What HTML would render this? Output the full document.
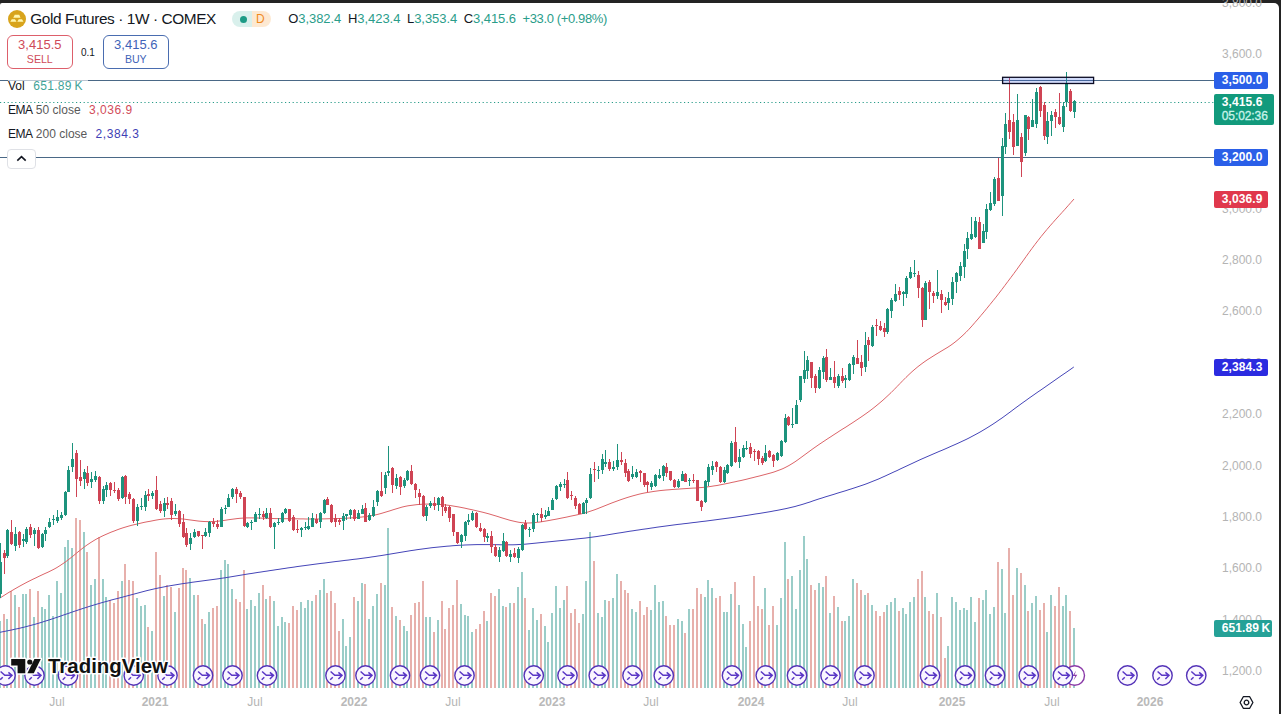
<!DOCTYPE html>
<html><head><meta charset="utf-8"><title>Gold Futures</title>
<style>
html,body{margin:0;padding:0;background:#232323;}
body{width:1281px;height:714px;position:relative;overflow:hidden;font-family:"Liberation Sans",sans-serif;}
#panel{position:absolute;left:0;top:3px;width:1279px;height:711px;background:#fff;border-top-right-radius:5px;border-top-left-radius:2px;}
#chart{position:absolute;left:0;top:0;}
.abs{position:absolute;white-space:nowrap;}
.pl{position:absolute;left:1214px;width:56px;text-align:center;font-size:12px;line-height:16px;color:#b4b4b4;height:16px;}
.tl{position:absolute;top:694px;width:60px;text-align:center;font-size:12px;line-height:16px;color:#b4b4b4;}
.tl.b{font-weight:bold;color:#b9b9b9;}
.tag{position:absolute;left:1214px;width:46.2px;padding-left:7.8px;height:16.8px;line-height:16.8px;font-size:12px;font-weight:bold;color:#fff;text-align:left;border-radius:2px;letter-spacing:0.1px}
</style></head><body>
<div id="panel"></div>
<div id="plabels"><div class="pl" style="top:-5.0px">3,800.0</div><div class="pl" style="top:46.4px">3,600.0</div><div class="pl" style="top:200.6px">3,000.0</div><div class="pl" style="top:252.0px">2,800.0</div><div class="pl" style="top:303.4px">2,600.0</div><div class="pl" style="top:354.8px">2,400.0</div><div class="pl" style="top:406.2px">2,200.0</div><div class="pl" style="top:457.6px">2,000.0</div><div class="pl" style="top:509.0px">1,800.0</div><div class="pl" style="top:560.4px">1,600.0</div><div class="pl" style="top:611.8px">1,400.0</div><div class="pl" style="top:663.2px">1,200.0</div></div>
<svg id="chart" width="1281" height="714" viewBox="0 0 1281 714"><path d="M-1,620.9h2V687.5h-2zM6,618.9h2V687.5h-2zM14,595.2h2V687.5h-2zM22,593.7h2V687.5h-2zM25,593.7h2V687.5h-2zM33,617.1h2V687.5h-2zM41,607.1h2V687.5h-2zM44,608.8h2V687.5h-2zM48,594.5h2V687.5h-2zM52,616.4h2V687.5h-2zM56,581.1h2V687.5h-2zM60,593.2h2V687.5h-2zM64,546.6h2V687.5h-2zM67,539.7h2V687.5h-2zM71,547.8h2V687.5h-2zM83,532.2h2V687.5h-2zM90,585.1h2V687.5h-2zM94,579.3h2V687.5h-2zM102,579.3h2V687.5h-2zM105,597.0h2V687.5h-2zM121,580.6h2V687.5h-2zM136,597.7h2V687.5h-2zM140,605.8h2V687.5h-2zM144,604.5h2V687.5h-2zM151,631.0h2V687.5h-2zM163,595.7h2V687.5h-2zM174,612.1h2V687.5h-2zM189,578.1h2V687.5h-2zM193,594.5h2V687.5h-2zM204,623.9h2V687.5h-2zM208,612.1h2V687.5h-2zM220,570.0h2V687.5h-2zM224,560.4h2V687.5h-2zM227,564.2h2V687.5h-2zM231,589.4h2V687.5h-2zM246,608.8h2V687.5h-2zM250,600.3h2V687.5h-2zM254,606.3h2V687.5h-2zM258,593.2h2V687.5h-2zM265,598.7h2V687.5h-2zM273,601.3h2V687.5h-2zM277,626.0h2V687.5h-2zM281,617.1h2V687.5h-2zM284,622.2h2V687.5h-2zM300,602.0h2V687.5h-2zM304,608.3h2V687.5h-2zM307,600.3h2V687.5h-2zM311,600.8h2V687.5h-2zM319,590.2h2V687.5h-2zM323,579.3h2V687.5h-2zM342,618.9h2V687.5h-2zM345,646.1h2V687.5h-2zM349,637.3h2V687.5h-2zM357,600.8h2V687.5h-2zM361,583.1h2V687.5h-2zM368,618.9h2V687.5h-2zM372,606.3h2V687.5h-2zM376,593.7h2V687.5h-2zM384,585.1h2V687.5h-2zM387,528.2h2V687.5h-2zM395,616.4h2V687.5h-2zM403,625.5h2V687.5h-2zM406,630.5h2V687.5h-2zM425,617.1h2V687.5h-2zM429,617.1h2V687.5h-2zM437,619.7h2V687.5h-2zM460,603.8h2V687.5h-2zM464,614.6h2V687.5h-2zM467,616.4h2V687.5h-2zM471,631.5h2V687.5h-2zM486,620.9h2V687.5h-2zM498,589.4h2V687.5h-2zM502,605.8h2V687.5h-2zM509,603.3h2V687.5h-2zM517,586.9h2V687.5h-2zM521,571.8h2V687.5h-2zM528,629.7h2V687.5h-2zM532,608.3h2V687.5h-2zM536,619.7h2V687.5h-2zM544,625.5h2V687.5h-2zM547,641.6h2V687.5h-2zM551,612.9h2V687.5h-2zM555,585.6h2V687.5h-2zM559,607.8h2V687.5h-2zM563,599.5h2V687.5h-2zM582,613.9h2V687.5h-2zM585,581.1h2V687.5h-2zM589,532.2h2V687.5h-2zM597,612.9h2V687.5h-2zM601,617.1h2V687.5h-2zM604,599.5h2V687.5h-2zM612,597.7h2V687.5h-2zM616,574.3h2V687.5h-2zM631,608.8h2V687.5h-2zM635,612.1h2V687.5h-2zM650,610.3h2V687.5h-2zM654,585.1h2V687.5h-2zM658,602.0h2V687.5h-2zM662,601.3h2V687.5h-2zM677,618.9h2V687.5h-2zM681,620.9h2V687.5h-2zM688,608.8h2V687.5h-2zM704,597.0h2V687.5h-2zM707,580.1h2V687.5h-2zM711,588.2h2V687.5h-2zM723,612.1h2V687.5h-2zM726,612.1h2V687.5h-2zM730,593.7h2V687.5h-2zM738,605.3h2V687.5h-2zM742,623.9h2V687.5h-2zM745,646.6h2V687.5h-2zM764,588.2h2V687.5h-2zM776,624.7h2V687.5h-2zM780,597.7h2V687.5h-2zM784,541.5h2V687.5h-2zM791,576.1h2V687.5h-2zM795,608.8h2V687.5h-2zM799,570.0h2V687.5h-2zM803,535.7h2V687.5h-2zM806,559.2h2V687.5h-2zM818,583.1h2V687.5h-2zM822,586.9h2V687.5h-2zM829,612.9h2V687.5h-2zM837,607.1h2V687.5h-2zM844,620.9h2V687.5h-2zM848,615.9h2V687.5h-2zM852,579.3h2V687.5h-2zM864,595.2h2V687.5h-2zM871,604.5h2V687.5h-2zM886,605.3h2V687.5h-2zM890,602.0h2V687.5h-2zM894,597.7h2V687.5h-2zM902,608.3h2V687.5h-2zM905,613.9h2V687.5h-2zM909,602.0h2V687.5h-2zM913,597.0h2V687.5h-2zM924,597.0h2V687.5h-2zM936,593.2h2V687.5h-2zM947,645.6h2V687.5h-2zM951,597.0h2V687.5h-2zM955,602.0h2V687.5h-2zM959,610.3h2V687.5h-2zM963,608.3h2V687.5h-2zM966,609.6h2V687.5h-2zM970,597.0h2V687.5h-2zM974,622.2h2V687.5h-2zM982,600.3h2V687.5h-2zM985,590.2h2V687.5h-2zM989,613.9h2V687.5h-2zM993,607.1h2V687.5h-2zM1001,568.5h2V687.5h-2zM1004,613.4h2V687.5h-2zM1016,567.5h2V687.5h-2zM1024,585.1h2V687.5h-2zM1031,603.3h2V687.5h-2zM1035,596.2h2V687.5h-2zM1046,632.3h2V687.5h-2zM1050,595.2h2V687.5h-2zM1062,605.8h2V687.5h-2zM1065,595.2h2V687.5h-2zM1073,628.0h2V687.5h-2z" fill="#9acdc8" shape-rendering="crispEdges"/><path d="M3,613.9h2V687.5h-2zM10,590.7h2V687.5h-2zM18,607.1h2V687.5h-2zM29,589.4h2V687.5h-2zM37,591.2h2V687.5h-2zM75,517.6h2V687.5h-2zM79,520.1h2V687.5h-2zM86,551.6h2V687.5h-2zM98,536.5h2V687.5h-2zM109,600.3h2V687.5h-2zM113,602.8h2V687.5h-2zM117,591.2h2V687.5h-2zM124,564.2h2V687.5h-2zM128,580.1h2V687.5h-2zM132,581.1h2V687.5h-2zM147,627.2h2V687.5h-2zM155,552.4h2V687.5h-2zM159,575.0h2V687.5h-2zM166,585.1h2V687.5h-2zM170,586.9h2V687.5h-2zM178,588.2h2V687.5h-2zM182,567.5h2V687.5h-2zM185,570.0h2V687.5h-2zM197,595.2h2V687.5h-2zM201,618.9h2V687.5h-2zM212,608.3h2V687.5h-2zM216,606.3h2V687.5h-2zM235,598.7h2V687.5h-2zM239,602.0h2V687.5h-2zM243,570.0h2V687.5h-2zM262,585.1h2V687.5h-2zM269,596.2h2V687.5h-2zM288,622.9h2V687.5h-2zM292,605.8h2V687.5h-2zM296,609.6h2V687.5h-2zM315,595.2h2V687.5h-2zM326,593.2h2V687.5h-2zM330,590.7h2V687.5h-2zM334,603.3h2V687.5h-2zM338,631.0h2V687.5h-2zM353,597.0h2V687.5h-2zM364,583.6h2V687.5h-2zM380,582.6h2V687.5h-2zM391,607.1h2V687.5h-2zM399,619.7h2V687.5h-2zM410,614.6h2V687.5h-2zM414,603.3h2V687.5h-2zM418,602.0h2V687.5h-2zM422,581.1h2V687.5h-2zM433,632.3h2V687.5h-2zM441,601.3h2V687.5h-2zM444,628.5h2V687.5h-2zM448,608.3h2V687.5h-2zM452,604.5h2V687.5h-2zM456,580.1h2V687.5h-2zM475,628.5h2V687.5h-2zM479,623.9h2V687.5h-2zM483,611.3h2V687.5h-2zM490,593.2h2V687.5h-2zM494,595.7h2V687.5h-2zM505,607.1h2V687.5h-2zM513,602.8h2V687.5h-2zM524,597.7h2V687.5h-2zM540,613.9h2V687.5h-2zM566,585.6h2V687.5h-2zM570,612.9h2V687.5h-2zM574,608.8h2V687.5h-2zM578,622.9h2V687.5h-2zM593,560.9h2V687.5h-2zM608,600.8h2V687.5h-2zM620,581.1h2V687.5h-2zM624,590.2h2V687.5h-2zM627,593.2h2V687.5h-2zM639,600.8h2V687.5h-2zM643,615.4h2V687.5h-2zM646,607.1h2V687.5h-2zM665,615.9h2V687.5h-2zM669,624.7h2V687.5h-2zM673,624.7h2V687.5h-2zM684,633.0h2V687.5h-2zM692,608.8h2V687.5h-2zM696,588.2h2V687.5h-2zM700,593.7h2V687.5h-2zM715,597.7h2V687.5h-2zM719,596.2h2V687.5h-2zM734,581.8h2V687.5h-2zM749,620.9h2V687.5h-2zM753,576.1h2V687.5h-2zM757,605.8h2V687.5h-2zM761,608.8h2V687.5h-2zM768,624.7h2V687.5h-2zM772,605.8h2V687.5h-2zM787,579.3h2V687.5h-2zM810,585.1h2V687.5h-2zM814,590.2h2V687.5h-2zM825,576.1h2V687.5h-2zM833,596.2h2V687.5h-2zM841,620.9h2V687.5h-2zM856,583.1h2V687.5h-2zM860,590.2h2V687.5h-2zM867,593.2h2V687.5h-2zM875,611.3h2V687.5h-2zM879,615.9h2V687.5h-2zM883,612.1h2V687.5h-2zM898,611.3h2V687.5h-2zM917,579.3h2V687.5h-2zM921,571.0h2V687.5h-2zM928,611.3h2V687.5h-2zM932,613.9h2V687.5h-2zM940,617.1h2V687.5h-2zM944,657.5h2V687.5h-2zM978,598.2h2V687.5h-2zM997,562.4h2V687.5h-2zM1008,548.3h2V687.5h-2zM1012,594.5h2V687.5h-2zM1020,573.0h2V687.5h-2zM1027,611.3h2V687.5h-2zM1039,609.6h2V687.5h-2zM1043,603.3h2V687.5h-2zM1054,606.3h2V687.5h-2zM1058,586.9h2V687.5h-2zM1069,611.3h2V687.5h-2z" fill="#e7b0ac" shape-rendering="crispEdges"/><path d="M0,80.5H1214M0,157.5H1214" stroke="#4a6886" stroke-width="1" fill="none"/><path d="M0,102.5H1214" stroke="#2a9d8a" stroke-width="1" stroke-dasharray="1.2,2.6" fill="none"/><path d="M0.0,632.3 L3.0,631.7 L6.0,631.1 L9.0,630.5 L12.0,629.9 L15.0,629.2 L18.0,628.6 L21.0,627.9 L24.0,627.2 L27.0,626.4 L30.0,625.6 L33.0,624.8 L36.0,624.0 L39.0,623.1 L42.0,622.2 L45.0,621.2 L48.0,620.3 L51.0,619.3 L54.0,618.3 L57.0,617.3 L60.0,616.3 L63.0,615.2 L66.0,614.2 L69.0,613.2 L72.0,612.1 L75.0,611.1 L78.0,610.1 L81.0,609.1 L84.0,608.1 L87.0,607.2 L90.0,606.2 L93.0,605.3 L96.0,604.4 L99.0,603.5 L102.0,602.6 L105.0,601.8 L108.0,601.0 L111.0,600.1 L114.0,599.3 L117.0,598.6 L120.0,597.8 L123.0,597.0 L126.0,596.2 L129.0,595.4 L132.0,594.6 L135.0,593.8 L138.0,593.0 L141.0,592.2 L144.0,591.4 L147.0,590.6 L150.0,589.9 L153.0,589.2 L156.0,588.5 L159.0,587.9 L162.0,587.3 L165.0,586.7 L168.0,586.1 L171.0,585.6 L174.0,585.1 L177.0,584.6 L180.0,584.1 L183.0,583.6 L186.0,583.2 L189.0,582.8 L192.0,582.3 L195.0,581.9 L198.0,581.5 L201.0,581.1 L204.0,580.7 L207.0,580.3 L210.0,579.9 L213.0,579.5 L216.0,579.1 L219.0,578.7 L222.0,578.2 L225.0,577.8 L228.0,577.3 L231.0,576.8 L234.0,576.3 L237.0,575.8 L240.0,575.3 L243.0,574.8 L246.0,574.3 L249.0,573.8 L252.0,573.4 L255.0,572.9 L258.0,572.4 L261.0,572.0 L264.0,571.5 L267.0,571.1 L270.0,570.6 L273.0,570.2 L276.0,569.7 L279.0,569.3 L282.0,568.8 L285.0,568.4 L288.0,567.9 L291.0,567.5 L294.0,567.1 L297.0,566.6 L300.0,566.2 L303.0,565.8 L306.0,565.4 L309.0,565.0 L312.0,564.6 L315.0,564.2 L318.0,563.8 L321.0,563.4 L324.0,563.1 L327.0,562.7 L330.0,562.3 L333.0,561.9 L336.0,561.5 L339.0,561.2 L342.0,560.8 L345.0,560.4 L348.0,560.1 L351.0,559.7 L354.0,559.3 L357.0,559.0 L360.0,558.6 L363.0,558.2 L366.0,557.8 L369.0,557.4 L372.0,556.9 L375.0,556.5 L378.0,556.0 L381.0,555.6 L384.0,555.1 L387.0,554.6 L390.0,554.1 L393.0,553.6 L396.0,553.1 L399.0,552.6 L402.0,552.1 L405.0,551.6 L408.0,551.1 L411.0,550.6 L414.0,550.2 L417.0,549.7 L420.0,549.3 L423.0,548.9 L426.0,548.5 L429.0,548.1 L432.0,547.7 L435.0,547.4 L438.0,547.1 L441.0,546.8 L444.0,546.5 L447.0,546.2 L450.0,546.0 L453.0,545.7 L456.0,545.5 L459.0,545.3 L462.0,545.2 L465.0,545.0 L468.0,544.9 L471.0,544.8 L474.0,544.7 L477.0,544.6 L480.0,544.6 L483.0,544.6 L486.0,544.6 L489.0,544.6 L492.0,544.7 L495.0,544.7 L498.0,544.7 L501.0,544.8 L504.0,544.8 L507.0,544.8 L510.0,544.8 L513.0,544.8 L516.0,544.7 L519.0,544.5 L522.0,544.4 L525.0,544.2 L528.0,543.9 L531.0,543.6 L534.0,543.3 L537.0,543.0 L540.0,542.7 L543.0,542.4 L546.0,542.1 L549.0,541.8 L552.0,541.5 L555.0,541.2 L558.0,540.9 L561.0,540.6 L564.0,540.3 L567.0,540.0 L570.0,539.7 L573.0,539.4 L576.0,539.0 L579.0,538.7 L582.0,538.4 L585.0,538.1 L588.0,537.7 L591.0,537.3 L594.0,536.9 L597.0,536.5 L600.0,536.0 L603.0,535.6 L606.0,535.1 L609.0,534.6 L612.0,534.1 L615.0,533.6 L618.0,533.1 L621.0,532.7 L624.0,532.2 L627.0,531.7 L630.0,531.2 L633.0,530.8 L636.0,530.3 L639.0,529.9 L642.0,529.4 L645.0,529.0 L648.0,528.6 L651.0,528.1 L654.0,527.7 L657.0,527.2 L660.0,526.8 L663.0,526.4 L666.0,526.0 L669.0,525.6 L672.0,525.2 L675.0,524.8 L678.0,524.4 L681.0,524.1 L684.0,523.7 L687.0,523.4 L690.0,523.0 L693.0,522.6 L696.0,522.3 L699.0,521.9 L702.0,521.5 L705.0,521.2 L708.0,520.8 L711.0,520.4 L714.0,520.0 L717.0,519.6 L720.0,519.2 L723.0,518.8 L726.0,518.4 L729.0,518.0 L732.0,517.6 L735.0,517.2 L738.0,516.7 L741.0,516.3 L744.0,515.8 L747.0,515.4 L750.0,514.9 L753.0,514.4 L756.0,513.9 L759.0,513.5 L762.0,513.0 L765.0,512.5 L768.0,512.0 L771.0,511.5 L774.0,510.9 L777.0,510.4 L780.0,509.8 L783.0,509.2 L786.0,508.6 L789.0,507.9 L792.0,507.2 L795.0,506.5 L798.0,505.6 L801.0,504.8 L804.0,503.9 L807.0,502.9 L810.0,502.0 L813.0,500.9 L816.0,499.9 L819.0,498.9 L822.0,498.0 L825.0,497.0 L828.0,496.1 L831.0,495.2 L834.0,494.3 L837.0,493.3 L840.0,492.4 L843.0,491.5 L846.0,490.6 L849.0,489.6 L852.0,488.7 L855.0,487.7 L858.0,486.7 L861.0,485.7 L864.0,484.7 L867.0,483.6 L870.0,482.4 L873.0,481.2 L876.0,480.0 L879.0,478.8 L882.0,477.4 L885.0,476.1 L888.0,474.7 L891.0,473.3 L894.0,471.9 L897.0,470.6 L900.0,469.1 L903.0,467.7 L906.0,466.3 L909.0,464.9 L912.0,463.5 L915.0,462.1 L918.0,460.7 L921.0,459.3 L924.0,458.0 L927.0,456.7 L930.0,455.4 L933.0,454.1 L936.0,452.8 L939.0,451.5 L942.0,450.3 L945.0,449.0 L948.0,447.7 L951.0,446.3 L954.0,445.0 L957.0,443.7 L960.0,442.3 L963.0,440.9 L966.0,439.5 L969.0,438.0 L972.0,436.4 L975.0,434.8 L978.0,433.2 L981.0,431.5 L984.0,429.7 L987.0,427.9 L990.0,426.0 L993.0,424.1 L996.0,422.1 L999.0,420.0 L1002.0,418.0 L1005.0,415.8 L1008.0,413.6 L1011.0,411.4 L1014.0,409.1 L1017.0,406.9 L1020.0,404.7 L1023.0,402.5 L1026.0,400.4 L1029.0,398.2 L1032.0,396.1 L1035.0,394.0 L1038.0,391.9 L1041.0,389.9 L1044.0,387.8 L1047.0,385.7 L1050.0,383.6 L1053.0,381.5 L1056.0,379.4 L1059.0,377.3 L1062.0,375.2 L1065.0,373.2 L1068.0,371.1 L1071.0,369.0 L1073.8,367.0" stroke="#4545b8" stroke-width="1" fill="none" stroke-linejoin="round"/><path d="M0.0,598.0 L3.0,596.1 L6.0,594.2 L9.0,592.3 L12.0,590.6 L15.0,588.8 L18.0,587.1 L21.0,585.4 L24.0,583.8 L27.0,582.2 L30.0,580.7 L33.0,579.2 L36.0,577.8 L39.0,576.3 L42.0,574.9 L45.0,573.5 L48.0,572.2 L51.0,570.7 L54.0,569.2 L57.0,567.5 L60.0,565.6 L63.0,563.6 L66.0,561.5 L69.0,559.2 L72.0,556.9 L75.0,554.4 L78.0,551.9 L81.0,549.5 L84.0,547.2 L87.0,545.0 L90.0,543.0 L93.0,541.1 L96.0,539.3 L99.0,537.7 L102.0,536.2 L105.0,534.8 L108.0,533.5 L111.0,532.2 L114.0,531.1 L117.0,529.9 L120.0,528.8 L123.0,527.8 L126.0,526.9 L129.0,526.0 L132.0,525.2 L135.0,524.5 L138.0,523.8 L141.0,523.1 L144.0,522.4 L147.0,521.8 L150.0,521.3 L153.0,520.7 L156.0,520.1 L159.0,519.6 L162.0,519.2 L165.0,518.9 L168.0,518.7 L171.0,518.5 L174.0,518.5 L177.0,518.6 L180.0,518.8 L183.0,519.0 L186.0,519.4 L189.0,519.8 L192.0,520.2 L195.0,520.6 L198.0,521.0 L201.0,521.3 L204.0,521.5 L207.0,521.6 L210.0,521.6 L213.0,521.5 L216.0,521.4 L219.0,521.1 L222.0,520.7 L225.0,520.3 L228.0,519.8 L231.0,519.4 L234.0,519.0 L237.0,518.6 L240.0,518.3 L243.0,518.1 L246.0,517.9 L249.0,517.9 L252.0,517.9 L255.0,517.9 L258.0,518.0 L261.0,518.1 L264.0,518.2 L267.0,518.3 L270.0,518.4 L273.0,518.5 L276.0,518.6 L279.0,518.6 L282.0,518.7 L285.0,518.7 L288.0,518.7 L291.0,518.7 L294.0,518.8 L297.0,518.8 L300.0,518.9 L303.0,518.9 L306.0,519.0 L309.0,519.0 L312.0,519.0 L315.0,519.0 L318.0,519.0 L321.0,518.9 L324.0,518.9 L327.0,518.8 L330.0,518.7 L333.0,518.7 L336.0,518.6 L339.0,518.5 L342.0,518.4 L345.0,518.3 L348.0,518.1 L351.0,517.9 L354.0,517.7 L357.0,517.5 L360.0,517.2 L363.0,516.9 L366.0,516.5 L369.0,516.1 L372.0,515.6 L375.0,515.0 L378.0,514.3 L381.0,513.5 L384.0,512.6 L387.0,511.7 L390.0,510.8 L393.0,509.8 L396.0,508.9 L399.0,508.0 L402.0,507.1 L405.0,506.4 L408.0,505.8 L411.0,505.4 L414.0,505.0 L417.0,504.6 L420.0,504.4 L423.0,504.2 L426.0,504.1 L429.0,504.1 L432.0,504.2 L435.0,504.2 L438.0,504.3 L441.0,504.5 L444.0,504.8 L447.0,505.1 L450.0,505.5 L453.0,506.0 L456.0,506.5 L459.0,507.0 L462.0,507.6 L465.0,508.2 L468.0,508.9 L471.0,509.5 L474.0,510.2 L477.0,510.9 L480.0,511.6 L483.0,512.3 L486.0,513.1 L489.0,513.9 L492.0,514.8 L495.0,515.7 L498.0,516.6 L501.0,517.6 L504.0,518.5 L507.0,519.4 L510.0,520.3 L513.0,521.0 L516.0,521.7 L519.0,522.3 L522.0,522.7 L525.0,522.9 L528.0,523.0 L531.0,522.9 L534.0,522.7 L537.0,522.3 L540.0,522.0 L543.0,521.5 L546.0,521.0 L549.0,520.5 L552.0,519.9 L555.0,519.4 L558.0,518.8 L561.0,518.2 L564.0,517.6 L567.0,517.0 L570.0,516.3 L573.0,515.7 L576.0,515.1 L579.0,514.4 L582.0,513.7 L585.0,512.9 L588.0,512.0 L591.0,511.0 L594.0,510.0 L597.0,508.9 L600.0,507.7 L603.0,506.5 L606.0,505.3 L609.0,504.1 L612.0,502.9 L615.0,501.8 L618.0,500.7 L621.0,499.6 L624.0,498.6 L627.0,497.6 L630.0,496.7 L633.0,495.8 L636.0,495.0 L639.0,494.2 L642.0,493.5 L645.0,492.9 L648.0,492.4 L651.0,491.9 L654.0,491.4 L657.0,491.0 L660.0,490.6 L663.0,490.3 L666.0,490.0 L669.0,489.8 L672.0,489.5 L675.0,489.3 L678.0,489.1 L681.0,488.9 L684.0,488.7 L687.0,488.5 L690.0,488.3 L693.0,488.1 L696.0,488.0 L699.0,487.7 L702.0,487.5 L705.0,487.2 L708.0,486.8 L711.0,486.4 L714.0,485.9 L717.0,485.5 L720.0,484.9 L723.0,484.3 L726.0,483.7 L729.0,483.1 L732.0,482.4 L735.0,481.8 L738.0,481.1 L741.0,480.5 L744.0,479.8 L747.0,479.1 L750.0,478.3 L753.0,477.6 L756.0,476.8 L759.0,476.1 L762.0,475.3 L765.0,474.5 L768.0,473.7 L771.0,472.9 L774.0,472.0 L777.0,470.9 L780.0,469.8 L783.0,468.6 L786.0,467.1 L789.0,465.5 L792.0,463.7 L795.0,461.8 L798.0,459.7 L801.0,457.5 L804.0,455.3 L807.0,453.1 L810.0,450.9 L813.0,448.7 L816.0,446.6 L819.0,444.5 L822.0,442.5 L825.0,440.5 L828.0,438.5 L831.0,436.6 L834.0,434.6 L837.0,432.7 L840.0,430.7 L843.0,428.8 L846.0,427.0 L849.0,425.0 L852.0,423.1 L855.0,421.1 L858.0,419.1 L861.0,417.1 L864.0,415.0 L867.0,412.9 L870.0,410.7 L873.0,408.4 L876.0,406.0 L879.0,403.5 L882.0,401.0 L885.0,398.3 L888.0,395.5 L891.0,392.7 L894.0,389.7 L897.0,386.6 L900.0,383.5 L903.0,380.4 L906.0,377.4 L909.0,374.5 L912.0,371.7 L915.0,369.1 L918.0,366.6 L921.0,364.3 L924.0,362.1 L927.0,360.0 L930.0,358.1 L933.0,356.2 L936.0,354.3 L939.0,352.5 L942.0,350.7 L945.0,348.9 L948.0,347.1 L951.0,345.1 L954.0,342.9 L957.0,340.5 L960.0,337.9 L963.0,335.2 L966.0,332.3 L969.0,329.2 L972.0,325.9 L975.0,322.4 L978.0,319.0 L981.0,315.4 L984.0,311.9 L987.0,308.2 L990.0,304.5 L993.0,300.8 L996.0,297.1 L999.0,293.2 L1002.0,289.3 L1005.0,285.3 L1008.0,281.3 L1011.0,277.3 L1014.0,273.3 L1017.0,269.2 L1020.0,265.0 L1023.0,260.9 L1026.0,256.7 L1029.0,252.5 L1032.0,248.4 L1035.0,244.4 L1038.0,240.5 L1041.0,236.7 L1044.0,233.0 L1047.0,229.4 L1050.0,225.9 L1053.0,222.5 L1056.0,219.1 L1059.0,215.8 L1062.0,212.5 L1065.0,209.2 L1068.0,205.8 L1071.0,202.4 L1074.0,199.0" stroke="#dc6468" stroke-width="1" fill="none" stroke-linejoin="round"/><path d="M0.5,542.5V598.4M7.5,529.2V557.5M15.5,527.4V551.1M23.5,534.1V546.5M26.5,527.4V543.8M34.5,528.3V545.6M42.5,533.4V548.0M45.5,527.4V541.1M49.5,518.3V528.3M53.5,515.2V524.7M57.5,510.1V522.5M61.5,511.9V519.6M65.5,491.0V515.6M68.5,465.5V491.9M72.5,443.1V471.5M84.5,469.1V489.2M91.5,472.2V488.3M95.5,471.0V481.5M103.5,486.4V503.7M106.5,482.4V497.4M122.5,476.4V498.8M137.5,504.1V525.6M141.5,497.9V510.1M145.5,491.3V511.4M152.5,490.6V498.6M164.5,498.3V516.5M175.5,503.7V515.6M190.5,533.2V549.8M194.5,529.2V538.3M205.5,528.3V537.4M209.5,521.0V536.5M221.5,506.5V527.0M225.5,505.2V514.3M228.5,494.3V507.0M232.5,488.2V498.6M247.5,522.3V528.3M251.5,520.1V529.6M255.5,511.9V522.3M259.5,508.3V519.2M266.5,508.3V519.2M274.5,521.9V548.9M278.5,518.3V524.7M282.5,511.9V522.8M285.5,508.3V513.7M301.5,526.5V537.4M305.5,521.9V530.1M308.5,517.4V529.6M312.5,513.2V527.4M320.5,511.9V527.8M324.5,499.2V513.7M343.5,513.2V529.6M346.5,513.7V520.1M350.5,509.2V519.2M358.5,510.1V519.2M362.5,505.2V514.3M369.5,513.3V520.6M373.5,500.2V516.6M377.5,490.0V506.0M385.5,472.3V493.6M388.5,445.9V476.0M396.5,474.1V488.7M404.5,478.3V487.8M407.5,470.0V480.5M426.5,505.1V520.6M430.5,500.5V507.8M438.5,496.9V510.6M461.5,533.7V548.2M465.5,520.9V540.6M468.5,514.2V524.6M472.5,510.6V520.9M487.5,532.9V542.3M499.5,547.4V562.4M503.5,533.2V552.0M510.5,550.2V562.4M518.5,547.4V563.4M522.5,524.1V551.4M529.5,527.0V537.4M533.5,513.2V531.9M537.5,512.5V522.3M545.5,509.6V518.7M548.5,507.4V516.1M552.5,498.3V510.1M556.5,485.2V500.1M560.5,482.2V491.3M564.5,479.1V487.7M583.5,501.5V514.3M586.5,498.3V513.7M590.5,468.2V498.6M598.5,465.5V479.1M602.5,453.7V474.2M605.5,450.1V466.5M613.5,461.0V471.0M617.5,444.1V469.6M632.5,465.9V478.7M636.5,468.8V477.9M651.5,481.0V490.1M655.5,473.7V487.0M659.5,468.8V478.7M663.5,464.6V481.0M678.5,479.2V487.8M682.5,471.0V481.0M689.5,477.9V485.9M705.5,480.1V502.9M708.5,464.1V485.9M712.5,461.0V475.0M724.5,467.0V482.8M727.5,463.8V474.4M731.5,441.1V466.5M739.5,449.2V468.4M743.5,444.7V458.3M746.5,441.1V450.2M765.5,445.2V461.6M777.5,452.0V460.5M781.5,440.1V456.9M785.5,413.7V442.9M792.5,408.3V427.8M796.5,400.1V424.1M800.5,375.5V401.9M804.5,350.9V382.8M807.5,355.5V379.1M819.5,366.9V389.2M823.5,356.0V379.1M830.5,367.7V380.1M838.5,374.2V387.7M845.5,375.3V388.4M849.5,362.9V381.1M853.5,355.2V373.8M865.5,332.3V371.6M872.5,325.0V346.5M887.5,307.9V333.8M891.5,298.2V318.3M895.5,284.2V301.9M903.5,291.0V306.4M906.5,276.4V297.7M910.5,267.3V279.1M914.5,260.0V276.9M925.5,281.3V320.1M937.5,270.0V298.8M948.5,291.5V309.7M952.5,277.3V304.6M956.5,271.5V292.8M960.5,262.4V281.3M964.5,244.3V277.5M967.5,232.3V259.2M971.5,217.4V240.1M975.5,216.5V237.8M983.5,223.7V243.2M986.5,204.3V238.9M990.5,192.2V211.0M994.5,176.9V206.4M1002.5,137.6V215.9M1005.5,112.7V154.0M1017.5,93.9V146.3M1025.5,114.7V156.3M1032.5,99.3V127.0M1036.5,87.7V127.8M1047.5,112.4V144.0M1051.5,111.1V135.5M1063.5,102.4V132.1M1066.5,72.0V107.0M1074.5,99.7V117.8" stroke="#1d937d" stroke-width="1" fill="none" shape-rendering="crispEdges"/><path d="M4.5,550.2V574.4M11.5,520.1V544.7M19.5,531.1V548.3M30.5,524.3V537.8M38.5,527.4V549.3M76.5,450.4V497.4M80.5,460.0V486.4M87.5,466.4V485.5M99.5,476.4V503.7M110.5,481.9V495.5M114.5,482.4V492.8M118.5,488.3V501.4M125.5,475.2V504.3M129.5,492.4V504.1M133.5,497.9V522.8M148.5,489.2V501.0M156.5,476.1V509.6M160.5,501.0V512.5M167.5,497.4V509.2M171.5,498.3V520.1M179.5,510.1V527.0M183.5,514.3V538.3M186.5,527.8V547.4M198.5,530.7V537.4M202.5,534.7V548.9M213.5,518.3V526.5M217.5,520.1V528.9M236.5,487.0V502.8M240.5,490.6V498.6M244.5,496.8V526.5M263.5,511.4V519.7M270.5,508.3V527.8M289.5,508.8V521.6M293.5,515.0V530.7M297.5,520.1V532.5M316.5,514.3V524.1M327.5,496.8V505.2M331.5,503.7V522.8M335.5,514.3V526.5M339.5,518.3V524.7M354.5,509.2V521.0M365.5,503.3V522.0M381.5,472.3V496.9M392.5,466.9V492.9M400.5,476.0V494.7M411.5,465.0V484.5M415.5,482.7V498.4M419.5,489.3V504.6M423.5,494.7V517.3M434.5,497.3V509.6M442.5,496.0V515.5M445.5,503.8V513.3M449.5,506.0V522.0M453.5,513.7V535.5M457.5,531.5V543.9M476.5,512.4V527.9M480.5,523.3V532.4M484.5,527.8V542.0M491.5,531.4V552.5M495.5,544.1V556.5M506.5,541.1V556.9M514.5,548.3V558.0M525.5,520.1V529.6M541.5,508.3V521.6M567.5,472.4V498.6M571.5,491.3V500.4M575.5,496.4V508.8M579.5,502.8V514.3M594.5,462.2V481.5M609.5,459.2V471.0M621.5,451.9V464.6M625.5,458.6V477.4M628.5,468.8V481.9M640.5,470.1V481.6M644.5,472.5V487.0M647.5,481.0V491.9M666.5,462.8V477.4M670.5,470.6V481.0M674.5,478.7V487.8M685.5,472.8V481.9M693.5,473.7V482.8M697.5,479.7V501.1M701.5,500.1V510.7M716.5,461.0V471.9M720.5,465.9V482.8M735.5,427.0V463.4M750.5,442.9V458.0M754.5,448.9V460.5M758.5,450.2V464.7M762.5,456.2V464.7M769.5,449.6V458.0M773.5,453.8V467.1M788.5,416.1V425.6M811.5,361.5V387.7M815.5,374.2V392.8M826.5,349.1V381.5M834.5,360.9V387.7M842.5,368.2V383.3M857.5,340.1V364.3M861.5,355.2V375.6M868.5,337.0V361.4M876.5,319.2V335.6M880.5,321.4V331.0M884.5,322.8V336.5M899.5,287.3V299.5M918.5,270.9V298.2M922.5,287.3V326.5M929.5,280.0V309.2M933.5,291.0V302.8M941.5,290.4V312.8M945.5,297.3V306.1M979.5,216.5V249.2M998.5,157.6V201.0M1009.5,77.7V138.9M1013.5,114.2V154.7M1021.5,133.2V177.1M1028.5,116.2V139.8M1040.5,85.9V116.7M1044.5,101.9V139.8M1055.5,109.3V127.8M1059.5,93.1V124.7M1070.5,89.0V111.6" stroke="#cf4454" stroke-width="1" fill="none" shape-rendering="crispEdges"/><path d="M-1,562.0h3V593.9h-3zM6,529.8h3V555.6h-3zM14,534.1h3V545.6h-3zM22,539.2h3V540.7h-3zM25,528.7h3V542.0h-3zM33,529.8h3V534.1h-3zM41,534.1h3V547.4h-3zM44,529.8h3V533.8h-3zM48,521.9h3V526.5h-3zM52,519.4h3V520.4h-3zM56,517.0h3V521.0h-3zM60,514.7h3V518.3h-3zM64,491.9h3V515.2h-3zM67,470.1h3V491.5h-3zM71,459.1h3V467.3h-3zM83,472.2h3V479.2h-3zM90,479.2h3V482.4h-3zM94,475.9h3V479.5h-3zM102,489.2h3V501.4h-3zM105,484.6h3V489.7h-3zM121,477.3h3V498.3h-3zM136,507.0h3V521.0h-3zM140,505.9h3V507.4h-3zM144,494.6h3V506.5h-3zM151,492.8h3V496.1h-3zM163,502.8h3V511.0h-3zM174,511.0h3V514.3h-3zM189,538.3h3V543.8h-3zM193,531.9h3V536.5h-3zM204,531.9h3V535.6h-3zM208,522.3h3V532.9h-3zM220,508.8h3V526.5h-3zM224,507.7h3V508.8h-3zM227,498.3h3V506.5h-3zM231,489.2h3V497.4h-3zM246,523.4h3V527.4h-3zM250,521.9h3V523.0h-3zM254,514.3h3V521.6h-3zM258,513.7h3V515.0h-3zM265,513.2h3V517.9h-3zM273,522.8h3V527.4h-3zM277,521.6h3V523.0h-3zM281,512.5h3V522.3h-3zM284,509.2h3V512.8h-3zM300,527.8h3V530.3h-3zM304,527.0h3V528.1h-3zM307,525.9h3V528.9h-3zM311,518.3h3V527.0h-3zM319,512.8h3V522.3h-3zM323,500.1h3V513.2h-3zM342,515.6h3V521.0h-3zM345,514.3h3V516.1h-3zM349,510.1h3V515.0h-3zM357,513.2h3V518.7h-3zM361,508.8h3V513.7h-3zM368,515.1h3V520.2h-3zM372,506.9h3V516.0h-3zM376,491.4h3V501.5h-3zM384,475.1h3V487.8h-3zM387,470.5h3V473.2h-3zM395,477.8h3V486.0h-3zM403,479.6h3V485.6h-3zM406,471.4h3V479.6h-3zM425,506.9h3V516.0h-3zM429,503.3h3V506.4h-3zM437,497.8h3V504.6h-3zM460,534.8h3V542.4h-3zM464,522.0h3V536.1h-3zM467,519.7h3V522.4h-3zM471,512.9h3V520.2h-3zM486,535.6h3V538.0h-3zM498,549.6h3V556.5h-3zM502,541.1h3V551.1h-3zM509,553.8h3V556.5h-3zM517,548.9h3V558.0h-3zM521,525.2h3V550.2h-3zM528,528.9h3V529.9h-3zM532,514.6h3V529.2h-3zM536,514.3h3V515.3h-3zM544,515.0h3V516.5h-3zM547,510.6h3V515.6h-3zM551,500.1h3V509.6h-3zM555,485.9h3V499.2h-3zM559,483.7h3V487.3h-3zM563,483.7h3V484.8h-3zM582,502.8h3V513.7h-3zM585,500.1h3V502.8h-3zM589,473.7h3V498.3h-3zM597,469.5h3V471.0h-3zM601,459.1h3V470.0h-3zM604,461.9h3V464.1h-3zM612,466.5h3V468.8h-3zM616,459.7h3V467.0h-3zM631,473.7h3V476.8h-3zM635,471.9h3V476.5h-3zM650,482.8h3V486.5h-3zM654,474.6h3V485.6h-3zM658,475.0h3V477.9h-3zM662,465.5h3V476.1h-3zM677,481.0h3V487.4h-3zM681,473.7h3V480.5h-3zM688,479.7h3V480.7h-3zM704,481.0h3V502.3h-3zM707,467.0h3V481.9h-3zM711,465.9h3V469.6h-3zM723,470.1h3V482.3h-3zM726,464.7h3V472.9h-3zM730,442.9h3V465.6h-3zM738,457.4h3V461.6h-3zM742,447.8h3V457.4h-3zM745,447.8h3V449.2h-3zM764,452.5h3V460.5h-3zM776,452.9h3V459.8h-3zM780,441.1h3V456.2h-3zM784,417.9h3V442.3h-3zM791,424.1h3V425.2h-3zM795,404.6h3V423.8h-3zM799,376.4h3V400.4h-3zM803,370.0h3V378.6h-3zM806,360.0h3V371.3h-3zM818,370.0h3V387.7h-3zM822,358.2h3V371.9h-3zM829,377.3h3V379.7h-3zM837,376.1h3V386.4h-3zM844,377.5h3V379.6h-3zM848,363.8h3V380.0h-3zM852,357.4h3V364.7h-3zM864,344.7h3V367.4h-3zM871,327.4h3V345.6h-3zM886,308.6h3V331.6h-3zM890,299.5h3V311.0h-3zM894,294.1h3V301.0h-3zM902,292.2h3V293.7h-3zM905,277.7h3V293.7h-3zM909,271.8h3V277.7h-3zM913,272.8h3V273.9h-3zM924,282.8h3V319.6h-3zM936,292.2h3V295.5h-3zM947,298.2h3V302.8h-3zM951,282.4h3V298.8h-3zM955,272.8h3V282.4h-3zM959,266.0h3V276.4h-3zM963,251.1h3V266.5h-3zM966,238.3h3V249.2h-3zM970,234.1h3V239.2h-3zM974,221.0h3V237.0h-3zM982,231.0h3V242.9h-3zM985,208.6h3V231.6h-3zM989,203.2h3V210.4h-3zM993,178.8h3V203.7h-3zM1001,146.4h3V195.5h-3zM1004,123.9h3V147.0h-3zM1016,120.1h3V145.5h-3zM1024,115.2h3V153.2h-3zM1031,120.1h3V126.6h-3zM1035,92.0h3V123.9h-3zM1046,121.3h3V136.7h-3zM1050,114.7h3V120.9h-3zM1062,105.9h3V126.6h-3zM1065,83.1h3V102.4h-3zM1073,101.3h3V111.6h-3z" fill="#1d937d" shape-rendering="crispEdges"/><path d="M3,552.7h3V557.6h-3zM10,532.0h3V543.8h-3zM18,532.0h3V544.7h-3zM29,527.4h3V534.7h-3zM37,529.8h3V548.3h-3zM75,453.3h3V479.2h-3zM79,477.0h3V480.6h-3zM86,473.2h3V482.8h-3zM98,477.0h3V501.0h-3zM109,482.8h3V490.4h-3zM113,489.7h3V490.7h-3zM117,490.1h3V498.8h-3zM124,476.4h3V496.5h-3zM128,494.3h3V499.2h-3zM132,498.6h3V521.0h-3zM147,493.7h3V496.4h-3zM155,490.1h3V508.8h-3zM159,503.7h3V510.6h-3zM166,502.8h3V504.6h-3zM170,501.0h3V514.6h-3zM178,511.0h3V523.8h-3zM182,521.9h3V536.5h-3zM185,533.2h3V544.7h-3zM197,531.4h3V535.6h-3zM201,535.0h3V536.0h-3zM212,521.9h3V524.1h-3zM216,523.8h3V527.0h-3zM235,489.2h3V494.3h-3zM239,492.8h3V497.4h-3zM243,497.4h3V525.6h-3zM262,513.7h3V517.4h-3zM269,512.8h3V527.4h-3zM288,509.2h3V521.0h-3zM292,516.5h3V530.1h-3zM296,528.9h3V529.9h-3zM315,518.7h3V522.8h-3zM326,498.6h3V504.6h-3zM330,504.6h3V521.9h-3zM334,518.3h3V522.3h-3zM338,520.1h3V521.6h-3zM353,510.1h3V518.7h-3zM364,507.8h3V521.5h-3zM380,491.1h3V496.0h-3zM391,468.1h3V484.5h-3zM399,476.9h3V487.4h-3zM410,471.4h3V483.8h-3zM414,483.8h3V489.6h-3zM418,492.9h3V496.5h-3zM422,496.0h3V515.5h-3zM433,503.3h3V505.6h-3zM441,496.9h3V506.9h-3zM444,506.9h3V510.6h-3zM448,506.9h3V517.8h-3zM452,514.2h3V532.4h-3zM456,532.4h3V542.8h-3zM475,512.9h3V526.9h-3zM479,527.9h3V530.6h-3zM483,528.9h3V536.5h-3zM490,536.1h3V547.4h-3zM494,547.1h3V555.6h-3zM505,542.0h3V556.2h-3zM513,553.2h3V557.4h-3zM524,523.4h3V529.2h-3zM540,514.3h3V518.3h-3zM566,480.4h3V498.3h-3zM570,494.6h3V496.1h-3zM574,497.9h3V505.5h-3zM578,503.7h3V513.7h-3zM593,468.8h3V470.2h-3zM608,461.9h3V469.2h-3zM620,459.7h3V461.9h-3zM624,462.8h3V472.5h-3zM627,470.6h3V481.0h-3zM639,471.4h3V473.2h-3zM643,473.2h3V485.2h-3zM646,481.9h3V485.2h-3zM665,467.0h3V472.8h-3zM669,471.4h3V480.1h-3zM673,479.7h3V487.4h-3zM684,473.7h3V481.6h-3zM692,479.7h3V480.8h-3zM696,480.1h3V500.5h-3zM700,501.1h3V507.4h-3zM715,462.3h3V466.5h-3zM719,466.5h3V482.3h-3zM734,442.0h3V462.4h-3zM749,447.1h3V453.8h-3zM753,450.7h3V451.8h-3zM757,451.4h3V458.7h-3zM761,458.0h3V462.9h-3zM768,451.1h3V456.5h-3zM772,455.1h3V461.1h-3zM787,417.4h3V424.7h-3zM810,362.2h3V377.9h-3zM814,376.4h3V388.2h-3zM825,356.8h3V380.4h-3zM833,377.3h3V383.3h-3zM841,376.1h3V381.0h-3zM856,357.8h3V363.8h-3zM860,362.0h3V368.3h-3zM867,339.6h3V344.7h-3zM875,324.6h3V325.7h-3zM879,326.1h3V330.1h-3zM883,328.3h3V331.6h-3zM898,291.0h3V295.2h-3zM917,274.6h3V287.9h-3zM921,287.9h3V320.1h-3zM928,281.9h3V291.5h-3zM932,292.8h3V296.4h-3zM940,293.7h3V300.1h-3zM944,301.9h3V305.0h-3zM978,221.9h3V248.7h-3zM997,178.2h3V200.6h-3zM1008,120.1h3V132.4h-3zM1012,121.6h3V147.0h-3zM1020,137.0h3V161.7h-3zM1027,117.0h3V129.3h-3zM1039,87.0h3V110.8h-3zM1043,105.4h3V135.5h-3zM1054,112.1h3V117.3h-3zM1058,117.0h3V123.9h-3zM1069,90.5h3V110.8h-3z" fill="#cf4454" shape-rendering="crispEdges"/><rect x="1002.6" y="77.3" width="91" height="6.2" fill="#3a63e8" fill-opacity="0.24" stroke="#0c0c24" stroke-width="1.3"/><defs><g id="ic"><circle r="9.7" fill="#faf6ff" stroke="#5433b8" stroke-width="1.4"/><path d="M-4.9,-4L-0.7,-0.3H6.2M2.9,-3.2L6.5,-0.2L2.9,3.5M-2.7,1.8L-5.3,4.2" fill="none" stroke="#5a37c6" stroke-width="1.5" stroke-linecap="butt" stroke-linejoin="miter"/></g></defs><g transform="translate(1074.7,675.5)"><circle r="9.8" fill="#fff" stroke="#8a3aa8" stroke-width="1.4"/><path d="M1.5,-5L-2.2,0.6H0.6L-1.2,5L2.6,-0.8H-0.2z" fill="#8a3aa8"/></g><use href="#ic" x="5.5" y="675.5"/><use href="#ic" x="34.5" y="675.5"/><use href="#ic" x="68" y="675.5"/><use href="#ic" x="133.75" y="675.5"/><use href="#ic" x="167.5" y="675.5"/><use href="#ic" x="203" y="675.5"/><use href="#ic" x="232.5" y="675.5"/><use href="#ic" x="267" y="675.5"/><use href="#ic" x="335.5" y="675.5"/><use href="#ic" x="365.5" y="675.5"/><use href="#ic" x="400" y="675.5"/><use href="#ic" x="430" y="675.5"/><use href="#ic" x="464.5" y="675.5"/><use href="#ic" x="533.75" y="675.5"/><use href="#ic" x="567.5" y="675.5"/><use href="#ic" x="598.75" y="675.5"/><use href="#ic" x="632.5" y="675.5"/><use href="#ic" x="663.75" y="675.5"/><use href="#ic" x="732" y="675.5"/><use href="#ic" x="765.75" y="675.5"/><use href="#ic" x="797" y="675.5"/><use href="#ic" x="830.5" y="675.5"/><use href="#ic" x="864.5" y="675.5"/><use href="#ic" x="930" y="675.5"/><use href="#ic" x="965" y="675.5"/><use href="#ic" x="995" y="675.5"/><use href="#ic" x="1028.75" y="675.5"/><use href="#ic" x="1127.5" y="675.5"/><use href="#ic" x="1162.5" y="675.5"/><use href="#ic" x="1196.25" y="675.5"/><use href="#ic" x="1062.9" y="675.5"/></svg>
<div id="legendbg" class="abs" style="left:8px;top:76px;width:80px;height:18px;background:rgba(255,255,255,.62)"></div>
<div class="abs" style="left:8px;top:10px;width:18px;height:18px;border-radius:50%;background:#d8a41c;"></div>
<svg class="abs" style="left:8px;top:10px" width="18" height="18" viewBox="0 0 18 18"><path d="M6.75,4.75h4.5l1.25,3H5.25z M3.75,9.25h3.25l1.5,2.5H2.25z M10.75,9.25h3.25l1.5,2.5H9.25z" fill="#fff7b0"/></svg>
<div class="abs" id="title" style="left:30.3px;top:9.4px;font-size:15.4px;line-height:20px;color:#131722;letter-spacing:-0.41px">Gold Futures · 1W · COMEX</div>
<div class="abs" style="left:232px;top:11px;width:39px;height:16px;border-radius:8px;background:linear-gradient(90deg,#d9f0ec 0 50%,#fde9d2 50% 100%);"></div>
<div class="abs" style="left:239.5px;top:15.5px;width:7px;height:7px;border-radius:50%;background:#1d9b86;"></div>
<div class="abs" style="left:256px;top:11px;font-size:12px;line-height:16px;color:#f08a1c;">D</div>
<div id="ohlc"><div class="abs" style="left:288.2px">O<span class="t">3,382.4</span></div><div class="abs" style="left:348px">H<span class="t">3,423.4</span></div><div class="abs" style="left:407px">L<span class="t">3,353.4</span></div><div class="abs" style="left:463.7px">C<span class="t">3,415.6</span></div><div class="abs t" style="left:522.5px;letter-spacing:-0.37px">+33.0 (+0.98%)</div></div>
<style>#ohlc .abs{top:11px;font-size:13px;line-height:16px;color:#131722;letter-spacing:-0.06px}#ohlc .t{color:#2a9d8a}</style>
<div class="abs" style="left:7px;top:35px;width:63.6px;height:32px;border:1px solid #dd5f6b;border-radius:6px;text-align:center;color:#cf4a58;box-sizing:content-box"><div style="font-size:13px;line-height:15px;margin-top:1px">3,415.5</div><div style="font-size:10.6px;line-height:13px;margin-top:1.2px">SELL</div></div>
<div class="abs" style="left:81px;top:46.7px;font-size:10px;line-height:12px;color:#131722">0.1</div>
<div class="abs" style="left:103px;top:35px;width:63.6px;height:32px;border:1px solid #4a6db0;border-radius:6px;text-align:center;color:#3f63b8;box-sizing:content-box"><div style="font-size:13px;line-height:15px;margin-top:1px">3,415.6</div><div style="font-size:10.6px;line-height:13px;margin-top:1.2px">BUY</div></div>
<div class="abs lg" style="left:8px;top:78px;font-size:12px;line-height:16px;color:#131722">Vol <span style="color:#3fa398;margin-left:5.3px;letter-spacing:0.3px">651.89&#8201;K</span></div>
<div class="abs lg" style="left:8px;top:102px;font-size:12px;line-height:16px;color:#131722"><span style="letter-spacing:-0.5px">EMA</span> <span style="color:#5a5a5a">50 close</span> <span style="color:#d24c5a;margin-left:5px;letter-spacing:0.55px">3,036.9</span></div>
<div class="abs lg" style="left:8px;top:126px;font-size:12px;line-height:16px;color:#131722"><span style="letter-spacing:-0.5px">EMA</span> <span style="color:#5a5a5a">200 close</span> <span style="color:#3f3fb5;margin-left:5px;letter-spacing:0.55px">2,384.3</span></div>
<div class="abs" style="left:7px;top:148.5px;width:29px;height:20.5px;border:1px solid #dfe1e6;border-radius:4px;background:#fff;box-sizing:border-box"></div>
<svg class="abs" style="left:15px;top:153px" width="13" height="11" viewBox="0 0 13 11"><path d="M2.3,7.6L6.5,3.6L10.7,7.6" fill="none" stroke="#131722" stroke-width="1.6"/></svg>
<div class="tag" style="top:72px;background:#2a5fe8">3,500.0</div>
<div class="tag" style="top:149.1px;background:#2a5fe8">3,200.0</div>
<div class="tag" style="top:191px;background:#e0384c">3,036.9</div>
<div class="tag" style="top:359px;background:#2b2be0">2,384.3</div>
<div class="tag" style="top:94.2px;width:52.2px;height:30.5px;background:#129a7c"><div style="line-height:15px;margin-top:0.9px">3,415.6</div><div style="line-height:13px;font-weight:normal;color:#c9f3ea;letter-spacing:-0.1px;-webkit-text-stroke:0.3px #c9f3ea">05:02:36</div></div>
<div class="tag" style="top:620.3px;width:50.6px;background:#25a197">651.89&#8201;K</div>
<div class="tl" style="left:27px">Jul</div><div class="tl b" style="left:125px">2021</div><div class="tl" style="left:225px">Jul</div><div class="tl b" style="left:324px">2022</div><div class="tl" style="left:423px">Jul</div><div class="tl b" style="left:522px">2023</div><div class="tl" style="left:621px">Jul</div><div class="tl b" style="left:721px">2024</div><div class="tl" style="left:820px">Jul</div><div class="tl b" style="left:922px">2025</div><div class="tl" style="left:1022px">Jul</div><div class="tl b" style="left:1120px">2026</div>
<svg class="abs" style="left:1238px;top:694px" width="17" height="17" viewBox="-8.5 -8.5 17 17"><path d="M-3.2,-5.8H3.2L6.4,0L3.2,5.8H-3.2L-6.4,0z" fill="none" stroke="#131722" stroke-width="1.3" stroke-linejoin="round"/><circle r="2.3" fill="none" stroke="#131722" stroke-width="1.3"/></svg>
<svg class="abs" style="left:8px;top:655px" width="170" height="26" viewBox="0 0 170 26"><g stroke="#fff" stroke-width="3" stroke-linejoin="round" fill="#111"><path d="M3.2,4.1h14.1v14.1h-7.7v-7.7h-6.4z"/><circle cx="21.8" cy="7" r="2.6"/><path d="M26.4,4.1h6.4l-7,14.1h-6.4z"/></g><g fill="#111" stroke="none"><path d="M3.2,4.1h14.1v14.1h-7.7v-7.7h-6.4z"/><circle cx="21.8" cy="7" r="2.6"/><path d="M26.4,4.1h6.4l-7,14.1h-6.4z"/></g><text x="40" y="18.4" font-family="Liberation Sans, sans-serif" font-weight="bold" font-size="20" fill="#111" stroke="#fff" stroke-width="3" stroke-linejoin="round" paint-order="stroke" textLength="120" lengthAdjust="spacingAndGlyphs">TradingView</text></svg>
</body></html>
